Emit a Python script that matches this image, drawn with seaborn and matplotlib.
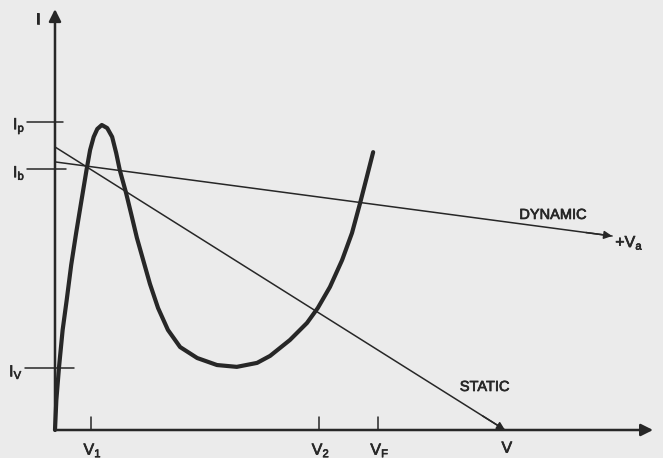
import numpy as np
import pandas as pd
import matplotlib
matplotlib.use("Agg")
import matplotlib.pyplot as plt
import matplotlib.patheffects as pe
import seaborn as sns

# ---- data (normalised units: V = 1 at the static load-line end, Ip = 1) ----
curve_v = [0.000, 0.003, 0.009, 0.017, 0.026, 0.036, 0.047, 0.059, 0.070, 0.078, 0.086,
           0.094, 0.104, 0.116, 0.127, 0.136, 0.144, 0.158, 0.171, 0.182, 0.196,
           0.211, 0.229, 0.251, 0.278, 0.316, 0.360, 0.404, 0.449, 0.478, 0.522, 0.560,
           0.584, 0.611, 0.638, 0.660, 0.678, 0.693, 0.707]
curve_i = [0.000, 0.098, 0.207, 0.328, 0.426, 0.541, 0.646, 0.754, 0.852, 0.918, 0.961,
           0.987, 1.000, 0.990, 0.961, 0.908, 0.852, 0.777, 0.698, 0.630, 0.557,
           0.479, 0.400, 0.328, 0.272, 0.236, 0.213, 0.207, 0.220, 0.243, 0.295, 0.351,
           0.400, 0.469, 0.557, 0.646, 0.744, 0.830, 0.911]

static_v = [0.0, 1.0]
static_i = [0.928, 0.0]
dynamic_v = [0.0, 1.238]
dynamic_i = [0.879, 0.636]

i_ticks = [1.010, 0.856, 0.203]
i_labels = ["I$_\\mathregular{p}$", "I$_\\mathregular{b}$", "I$_\\mathregular{V}$"]
v_ticks = [0.080, 0.587, 0.718, 1.0]
v_labels = ["V$_\\mathregular{1}$", "V$_\\mathregular{2}$", "V$_\\mathregular{F}$", "V"]

sns.set_theme(style="white")
plt.rcParams["font.family"] = ["Liberation Sans", "DejaVu Sans"]
plt.rcParams["mathtext.fontset"] = "custom"
plt.rcParams["mathtext.rm"] = "Liberation Sans"
plt.rcParams["mathtext.it"] = "Liberation Sans"

ink = "#272727"
bg = "#ebebeb"
heavy = [pe.withStroke(linewidth=0.5, foreground=ink)]

fig = plt.figure(figsize=(6.63, 4.58), dpi=100, facecolor=bg)
ax = fig.add_axes([0, 0, 1, 1])
ax.set_facecolor(bg)
ax.set_xlim(-0.1222, 1.3511)
ax.set_ylim(-0.0918, 1.4098)
ax.axis("off")

# axes with arrows
ax.annotate("", xy=(1.329, 0), xytext=(0, 0),
            arrowprops=dict(arrowstyle="-|>", color=ink, lw=1.8, mutation_scale=18, shrinkA=0, shrinkB=0))
ax.annotate("", xy=(0, 1.38), xytext=(0, 0),
            arrowprops=dict(arrowstyle="-|>", color=ink, lw=1.8, mutation_scale=18, shrinkA=0, shrinkB=0))

# load lines
sns.lineplot(x=static_v, y=static_i, ax=ax, color=ink, lw=1.1, sort=False)
sns.lineplot(x=dynamic_v, y=dynamic_i, ax=ax, color=ink, lw=1.1, sort=False)
ax.annotate("", xy=(static_v[1], static_i[1]), xytext=(0.95, 0.0464),
            arrowprops=dict(arrowstyle="-|>", color=ink, lw=1.1, mutation_scale=12, shrinkA=0, shrinkB=0))
ax.annotate("", xy=(dynamic_v[1], dynamic_i[1]), xytext=(1.18, 0.6474),
            arrowprops=dict(arrowstyle="-|>", color=ink, lw=1.1, mutation_scale=12, shrinkA=0, shrinkB=0))

# tunnel-diode characteristic
sns.lineplot(x=curve_v, y=curve_i, ax=ax, color=ink, lw=3.0, sort=False)
ax.lines[-1].set_solid_capstyle("round")
ax.lines[-1].set_solid_joinstyle("round")

# current ticks
tick_spans = [(-0.062, 0.018), (-0.062, 0.025), (-0.067, 0.042)]
for y, (x0, x1), lab in zip(i_ticks, tick_spans, i_labels):
    ax.plot([x0, x1], [y, y], color=ink, lw=1.1)
    ax.text(x0 - 0.004, y - 0.012, lab, ha="right", va="center", fontsize=11.5, color=ink,
            path_effects=heavy)

# voltage ticks
for x, lab in zip(v_ticks, v_labels):
    if lab != "V":
        ax.plot([x, x], [0, 0.043], color=ink, lw=1.1)
    ax.text(x + 0.004, -0.035, lab, ha="center", va="top", fontsize=11.5, color=ink,
            path_effects=heavy)

ax.text(-0.038, 1.345, "I", ha="center", va="center", fontsize=11.5, color=ink, path_effects=heavy)
ax.text(1.107, 0.705, "DYNAMIC", ha="center", va="center", fontsize=10.5, color=ink, path_effects=heavy)
ax.text(1.245, 0.615, "+V$_\\mathregular{a}$", ha="left", va="center", fontsize=11.5, color=ink,
        path_effects=heavy)
ax.text(0.955, 0.141, "STATIC", ha="center", va="center", fontsize=10.5, color=ink, path_effects=heavy)

fig.savefig("out.png", dpi=100, facecolor=bg)
